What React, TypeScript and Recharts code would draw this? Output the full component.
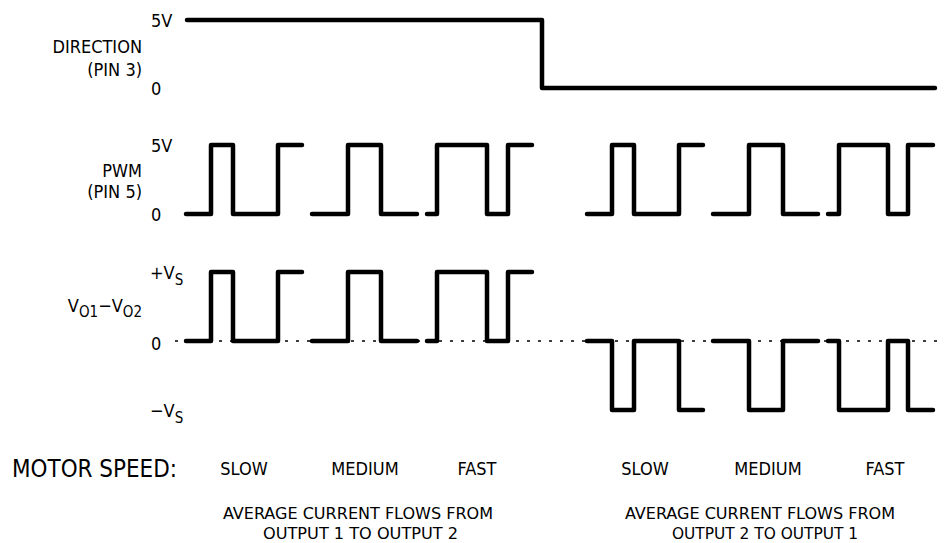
import { LineChart, Line, XAxis, YAxis, ReferenceLine } from "recharts"

// time axis: arbitrary units
const dirTime = [1, 356, 749]
const dirLevel = [5, 0, 0]

const pwmTime = [0, 25, 47, 92, 116, 121, 126, 162, 195, 231, 236, 241, 251, 301, 322, 346, 373,
    401, 426, 448, 493, 517, 522, 527, 563, 597, 632, 637, 642, 653, 702, 722, 747]
const pwmLevel = [0, 5, 0, 5, 5, null, 0, 5, 0, 0, null, 0, 5, 0, 5, 5, null,
    0, 5, 0, 5, 5, null, 0, 5, 0, 0, null, 0, 5, 0, 5, 5]
const outLevel = [0, 1, 0, 1, 1, null, 0, 1, 0, 0, null, 0, 1, 0, 1, 1, null,
    0, -1, 0, -1, -1, null, 0, -1, 0, 0, null, 0, -1, 0, -1, -1]

const speedTicks = [58, 179, 291, 459, 582, 699]
const speedLabels = ["SLOW", "MEDIUM", "FAST", "SLOW", "MEDIUM", "FAST"]

const dirData = dirTime.map((t, i) => ({ t, v: dirLevel[i] }))
const pwmData = pwmTime.map((t, i) => ({ t, v: pwmLevel[i] }))
const outData = pwmTime.map((t, i) => ({ t, v: outLevel[i] }))

const FONT = "'Liberation Sans Narrow', 'DejaVu Sans Condensed', 'Arial Narrow', sans-serif"
const X_DOMAIN = [-11, 759]

function VoltTick(props: any) {
    const { y, payload } = props
    const v = payload.value
    return (
        <text x={151} y={y + 7} fontSize={18} fontFamily={FONT} fill="#000">
            {v === 0 ? "0" : "5V"}
        </text>
    )
}

function OutTick(props: any) {
    const { y, payload } = props
    const v = payload.value
    if (v === 0) {
        return <text x={151} y={y + 9} fontSize={18} fontFamily={FONT} fill="#000">0</text>
    }
    return (
        <text x={150} y={y + 7} fontSize={18} fontFamily={FONT} fill="#000">
            {v > 0 ? "+V" : "\u2212V"}
            <tspan fontSize={15} dy={6}>S</tspan>
        </text>
    )
}

function SpeedTick(props: any) {
    const { x, y, index } = props
    return (
        <text x={x} y={y + 65} textAnchor="middle" fontSize={18} fontFamily={FONT} fill="#000">
            {speedLabels[index]}
        </text>
    )
}

const lineProps = {
    type: "stepAfter" as const,
    dataKey: "v",
    stroke: "#000",
    strokeWidth: 4.5,
    strokeLinecap: "round" as const,
    strokeLinejoin: "round" as const,
    dot: false,
    activeDot: false,
    isAnimationActive: false,
}

export default function App() {
    return (
        <div style={{ position: "absolute", left: 0, top: 0, width: 945, height: 543, background: "#fff" }}>
            <div style={{ position: "absolute", left: 0, top: 0 }}>
                <LineChart width={945} height={110} data={dirData} margin={{ top: 20, right: 0, bottom: 22, left: 145 }}>
                    <XAxis dataKey="t" type="number" domain={X_DOMAIN} hide />
                    <YAxis width={30} domain={[0, 5]} ticks={[0, 5]} axisLine={false} tickLine={false} tick={<VoltTick />} />
                    <Line {...lineProps} />
                </LineChart>
            </div>

            <div style={{ position: "absolute", left: 0, top: 120 }}>
                <LineChart width={945} height={110} data={pwmData} margin={{ top: 25, right: 0, bottom: 16, left: 145 }}>
                    <XAxis dataKey="t" type="number" domain={X_DOMAIN} hide />
                    <YAxis width={30} domain={[0, 5]} ticks={[0, 5]} axisLine={false} tickLine={false} tick={<VoltTick />} />
                    <Line {...lineProps} />
                </LineChart>
            </div>

            <div style={{ position: "absolute", left: 0, top: 240 }}>
                <LineChart width={945} height={250} data={outData} margin={{ top: 32, right: 0, bottom: 20, left: 145 }}>
                    <XAxis dataKey="t" type="number" domain={X_DOMAIN} ticks={speedTicks} height={60}
                        axisLine={false} tickLine={false} tickSize={0} tickMargin={0} tick={<SpeedTick />} />
                    <YAxis width={30} domain={[-1, 1]} ticks={[-1, 0, 1]} axisLine={false} tickLine={false} tick={<OutTick />} />
                    <ReferenceLine y={0} stroke="#000" strokeWidth={1.5} strokeDasharray="3 8" />
                    <Line {...lineProps} />
                </LineChart>
            </div>

            <svg width={945} height={543} style={{ position: "absolute", left: 0, top: 0, pointerEvents: "none" }}
                fontFamily={FONT} fill="#000">
                <text x={142} y={53} fontSize={18} textAnchor="end">DIRECTION</text>
                <text x={142} y={76} fontSize={18} textAnchor="end">(PIN 3)</text>
                <text x={142} y={177} fontSize={18} textAnchor="end">PWM</text>
                <text x={142} y={198} fontSize={18} textAnchor="end">(PIN 5)</text>
                <text x={142} y={312} fontSize={18} textAnchor="end">
                    V<tspan fontSize={15} dy={5}>O1</tspan>
                    <tspan dy={-5}>{"\u2212"}V</tspan>
                    <tspan fontSize={15} dy={5}>O2</tspan>
                </text>
                <text x={12} y={477} fontSize={25} textLength={165} lengthAdjust="spacingAndGlyphs">MOTOR SPEED:</text>
                <text x={223} y={519} fontSize={16} textLength={270} lengthAdjust="spacingAndGlyphs">AVERAGE CURRENT FLOWS FROM</text>
                <text x={263} y={539} fontSize={16} textLength={195} lengthAdjust="spacingAndGlyphs">OUTPUT 1 TO OUTPUT 2</text>
                <text x={625} y={519} fontSize={16} textLength={270} lengthAdjust="spacingAndGlyphs">AVERAGE CURRENT FLOWS FROM</text>
                <text x={672} y={539} fontSize={16} textLength={186} lengthAdjust="spacingAndGlyphs">OUTPUT 2 TO OUTPUT 1</text>
            </svg>
        </div>
    )
}
